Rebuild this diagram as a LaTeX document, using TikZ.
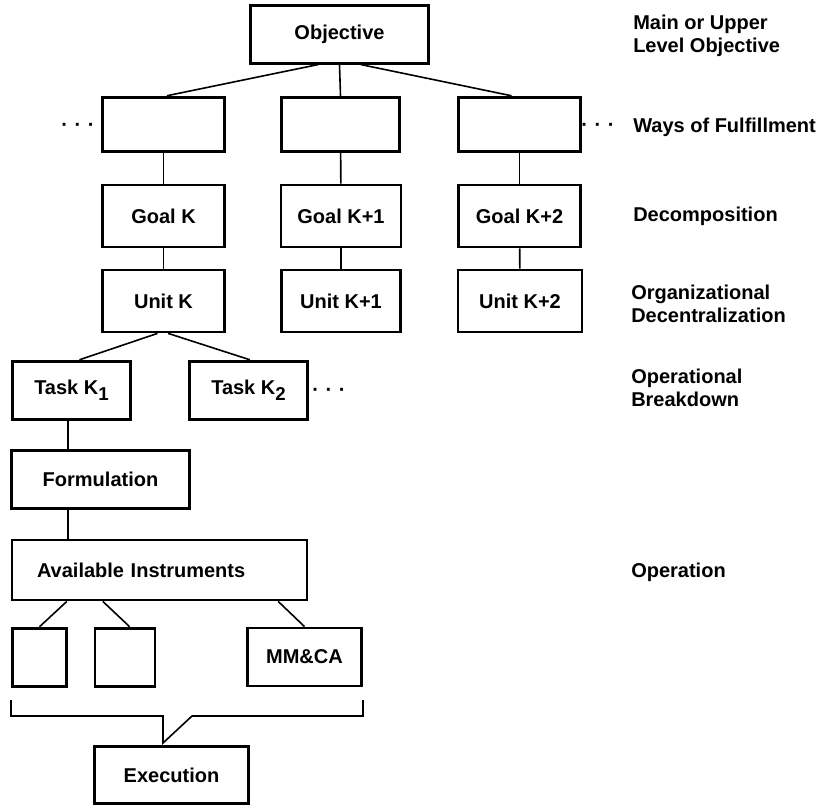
\documentclass[tikz,border=0pt]{standalone}
\usepackage{fontspec}
\setmainfont{Liberation Sans}
\usepackage{tikz}
\usetikzlibrary{positioning, calc}

\newcommand{\lowidx}[1]{\raisebox{-0.6ex}{\fontsize{14}{14}\selectfont #1}}

\tikzset{
    box/.style={draw, line width=2.1pt, inner sep=2pt, font=\bfseries\fontsize{15}{17.5}\selectfont},
    levelnote/.style={anchor=west, align=left, inner sep=0pt, font=\bfseries\fontsize{15}{17.5}\selectfont},
    more/.style={inner sep=0pt, font=\bfseries\fontsize{15}{17.5}\selectfont},
    link/.style={line width=1.2pt},
}

\begin{document}
\begin{tikzpicture}[x=0.75pt, y=-0.75pt]
    \useasboundingbox (0,0) rectangle (827,806);

    % objective and ways of fulfillment
    \node[box, minimum width=134pt, minimum height=43pt] (objective) at (339.5,34.5) {Objective};
    \node[box, minimum width=91pt, minimum height=41pt] (wayK) at (163.5,124.5) {};
    \node[box, minimum width=89pt, minimum height=41pt] (wayKa) at (340.5,124.5) {};
    \node[box, minimum width=92pt, minimum height=41pt] (wayKb) at (519.5,124.5) {};
    \node[more] (dotsWayL) at (78,127) {·\,\,·\,\,·};
    \node[more] (dotsWayR) at (598,127) {·\,\,·\,\,·};

    % goals and units
    \node[box, minimum width=91pt, minimum height=46.5pt] (goalK) at (163.5,216) {Goal K};
    \node[box, minimum width=90pt, minimum height=46.5pt] (goalKa) at (341,216) {Goal K+1};
    \node[box, minimum width=92pt, minimum height=46.5pt] (goalKb) at (519.5,216) {Goal K+2};
    \node[box, minimum width=91pt, minimum height=46.5pt] (unitK) at (163.5,301) {Unit K};
    \node[box, minimum width=89pt, minimum height=46.5pt] (unitKa) at (341,301) {Unit K+1};
    \node[box, minimum width=93pt, minimum height=46.5pt] (unitKb) at (520,301) {Unit K+2};

    % tasks
    \node[box, minimum width=88pt, minimum height=44pt] (taskA) at (71.5,390.5) {Task K\lowidx{1}};
    \node[box, minimum width=88pt, minimum height=44pt] (taskB) at (248.5,390.5) {Task K\lowidx{2}};
    \node[more] (dotsTask) at (329,392) {·\,\,·\,\,·};
    \node[box, minimum width=133pt, minimum height=44pt] (formulation) at (100.5,479.5) {Formulation};

    % instruments and execution
    \node[box, minimum height=45pt, inner xsep=18.75pt, text width=183.75pt, align=left] (instruments) at (159.5,570) {Available Instruments};
    \node[box, minimum width=41pt, minimum height=44pt] (instA) at (39.5,657.5) {};
    \node[box, minimum width=45pt, minimum height=44pt] (instB) at (125,657.5) {};
    \node[box, minimum width=86pt, minimum height=43.5pt] (mmca) at (304.5,657) {MM\&CA};
    \node[box, minimum width=115pt, minimum height=42.75pt] (execution) at (171.5,775) {Execution};

    % level notes
    \node[levelnote] (noteMain) at (633,36) {Main or Upper\\Level Objective};
    \node[levelnote] (noteWays) at (633,127) {Ways of Fulfillment};
    \node[levelnote] (noteDecomp) at (633,216) {Decomposition};
    \node[levelnote] (noteOrg) at (631,304) {Organizational\\Decentralization};
    \node[levelnote] (noteOp) at (631,388) {Operational\\Breakdown};
    \node[levelnote] (noteOper) at (631,572) {Operation};

    % connectors
    \draw[link] ([xshift=-16pt]objective.south) -- ([xshift=2.5pt]wayK.north);
    \draw[link] (objective.south) -- (wayKa.north);
    \draw[link] ([xshift=16pt]objective.south) -- ([xshift=-6pt]wayKb.north);
    \draw[link] (wayK) -- (goalK);
    \draw[link] (wayKa) -- (goalKa);
    \draw[link] (wayKb) -- (goalKb);
    \draw[link] (goalK) -- (unitK);
    \draw[link] (goalKa) -- (unitKa);
    \draw[link] (goalKb) -- (unitKb);
    \draw[link] ([xshift=-4.5pt]unitK.south) -- ([xshift=6pt]taskA.north);
    \draw[link] ([xshift=3.5pt]unitK.south) -- ([xshift=1pt]taskB.north);
    \draw[link] ([xshift=-2.5pt]taskA.south) -- ([xshift=-2.5pt]taskA.south |- formulation.north);
    \draw[link] ([xshift=-2.5pt]taskA.south |- formulation.south) -- ([xshift=-2.5pt]taskA.south |- instruments.north);
    \draw[link] ([xshift=-69.5pt]instruments.south) -- (instA.north);
    \draw[link] ([xshift=-42.5pt]instruments.south) -- ([xshift=3.5pt]instB.north);
    \draw[link] ([xshift=89pt]instruments.south) -- (mmca.north);

    % bracket pointing to execution
    \coordinate (brL) at (11,700);
    \coordinate (brR) at (363,700);
    \coordinate (brTip) at (163,743);
    \draw[link, line join=miter] (brL) -- (11,716) -- (163,716) -- (brTip) -- (192,716) -- (363,716) -- (brR);
\end{tikzpicture}
\end{document}
